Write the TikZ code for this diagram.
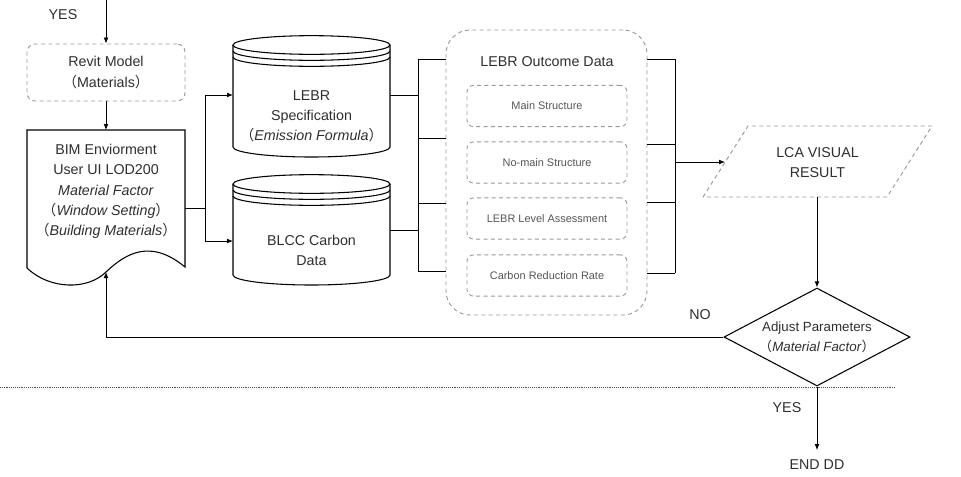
\documentclass[tikz,border=0pt]{standalone}
\usepackage{fontspec}
\setmainfont{Liberation Sans}
\newfontfamily\cjk{Noto Sans CJK SC}
\usepackage{xcolor}
\usetikzlibrary{arrows.meta,shapes.geometric}

\definecolor{dashgray}{HTML}{9A9A9A}
\definecolor{txtgray}{HTML}{2E2E2E}
\definecolor{subgray}{HTML}{555555}
\newcommand\lpar{{\cjk （}}
\newcommand\rpar{{\cjk ）}}

\tikzset{
  flow/.style={line width=0.6pt, -{Latex[length=4.5pt,width=3.6pt]}},
  link/.style={line width=0.6pt},
  solidshape/.style={line width=0.8pt},
  dashline/.style={draw=dashgray, line width=0.7pt, dash pattern=on 3pt off 2.5pt},
  dashbox/.style={dashline, rounded corners=6pt},
  txt/.style={text=txtgray, font=\fontsize{10.7}{15.2}\selectfont, align=center},
  subtxt/.style={text=subgray, font=\fontsize{8.2}{9}\selectfont},
  dotline/.style={draw=black!70, line width=0.6pt, dash pattern=on 0.6pt off 0.8pt},
}

\begin{document}
\begin{tikzpicture}[x=0.75pt, y=-0.75pt]
  \useasboundingbox (0,0) rectangle (961,476);

  % input and revit model
  \coordinate (inTop) at (106,0);
  \node[txt] (yesTop) at (63,15) {YES};
  \node[dashbox, txt, minimum width=118.5pt, minimum height=42.75pt] (revit) at (106,72.5)
    {Revit Model\\\lpar Materials\rpar};

  % BIM document shape
  \draw[solidshape] (27,268) -- (27,130) -- (185,130) -- (185,267)
    .. controls (150,238) and (125,254) .. (106,272)
    .. controls (88,290) and (50,290) .. (27,268) -- cycle;
  \node[txt] (bimtxt) at (106,191.5) {BIM Enviorment\\User UI LOD200\\\textit{Material Factor}\\
    \lpar\textit{Window Setting}\rpar\\\lpar\textit{Building Materials}\rpar};
  \coordinate (bimN) at (106,130);
  \coordinate (bimE) at (185,208);
  \coordinate (bimWave) at (106,272);

  % data stores
  \foreach \top/\bot in {45/147, 184/275} {
    \draw[solidshape] (233,\top) -- (233,\bot)
      arc[start angle=180, end angle=360, x radius=58.875pt, y radius=7.5pt] -- (390,\top);
    \draw[solidshape] (311.5,\top) ellipse[x radius=58.875pt, y radius=7pt];
    \draw[solidshape] (233,\top+6) arc[start angle=180, end angle=360, x radius=58.875pt, y radius=7pt];
    \draw[solidshape] (233,\top+12) arc[start angle=180, end angle=360, x radius=58.875pt, y radius=7pt];
  }
  \node[txt] (spec) at (311.5,116.5) {LEBR\\Specification\\\lpar\textit{Emission Formula}\rpar};
  \node[txt] (blcc) at (311.5,250.5) {BLCC Carbon\\Data};
  \coordinate (specW) at (233,95);
  \coordinate (blccW) at (233,241);
  \coordinate (specE) at (390,95);
  \coordinate (blccE) at (390,230);

  % outcome group
  \node[dashbox, rounded corners=18pt, minimum width=150.75pt, minimum height=213.75pt] (outcome) at (546.5,172.5) {};
  \node[txt] (outTitle) at (547,62) {LEBR Outcome Data};
  \foreach \nm/\yy/\tx in {mainS/106/Main Structure, nomainS/162.5/No-main Structure,
                           level/218.5/LEBR Level Assessment, rate/275.5/Carbon Reduction Rate}
    \node[dashbox, subtxt, rounded corners=5pt, minimum width=120pt, minimum height=31pt] (\nm) at (547,\yy) {\tx};

  % result and decision
  \draw[dashline] (703,197) -- (748,126) -- (932,126) -- (887,197) -- cycle;
  \node[txt] (lca) at (817.5,162.5) {LCA VISUAL\\RESULT};
  \coordinate (lcaW) at (725,162);
  \coordinate (lcaS) at (817,197);
  \node[draw, diamond, solidshape, txt, font=\fontsize{10}{15.2}\selectfont, aspect=1.9, inner sep=0pt,
        minimum width=139.5pt, minimum height=73.5pt] (adjust) at (817,337)
    {Adjust Parameters\\\lpar\textit{Material Factor}\rpar};
  \node[txt] (endDD) at (817,465) {END DD};
  \node[txt] (no) at (700,315) {NO};
  \node[txt] (yesBot) at (787,408) {YES};

  % connectors
  \draw[flow] (inTop) -- (revit.north);
  \draw[flow] (revit.south) -- (bimN);
  \coordinate (fork) at (205,208);
  \draw[link] (bimE) -- (fork);
  \draw[flow] (fork) |- (specW);
  \draw[flow] (fork) |- (blccW);

  \coordinate (brL) at (418,0);
  \draw[link] (specE) -- (specE -| brL);
  \draw[link] (blccE) -- (blccE -| brL);
  \draw[link] (brL |- 0,59) -- (brL |- 0,271);
  \foreach \yy in {59,138,203,271}
    \draw[link] (brL |- 0,\yy) -- (outcome.west |- 0,\yy);

  \coordinate (brR) at (675,0);
  \draw[link] (brR |- 0,59) -- (brR |- 0,273);
  \foreach \yy in {59,144,202,273}
    \draw[link] (outcome.east |- 0,\yy) -- (brR |- 0,\yy);
  \draw[flow] (brR |- 0,162) -- (lcaW);

  \draw[flow] (lcaS) -- (adjust.north);
  \draw[flow] (adjust.west) -| (bimWave);
  \draw[dotline] (0,387) -- (895,387);
  \draw[flow, shorten >=4pt] (adjust.south) -- (endDD);
\end{tikzpicture}
\end{document}
